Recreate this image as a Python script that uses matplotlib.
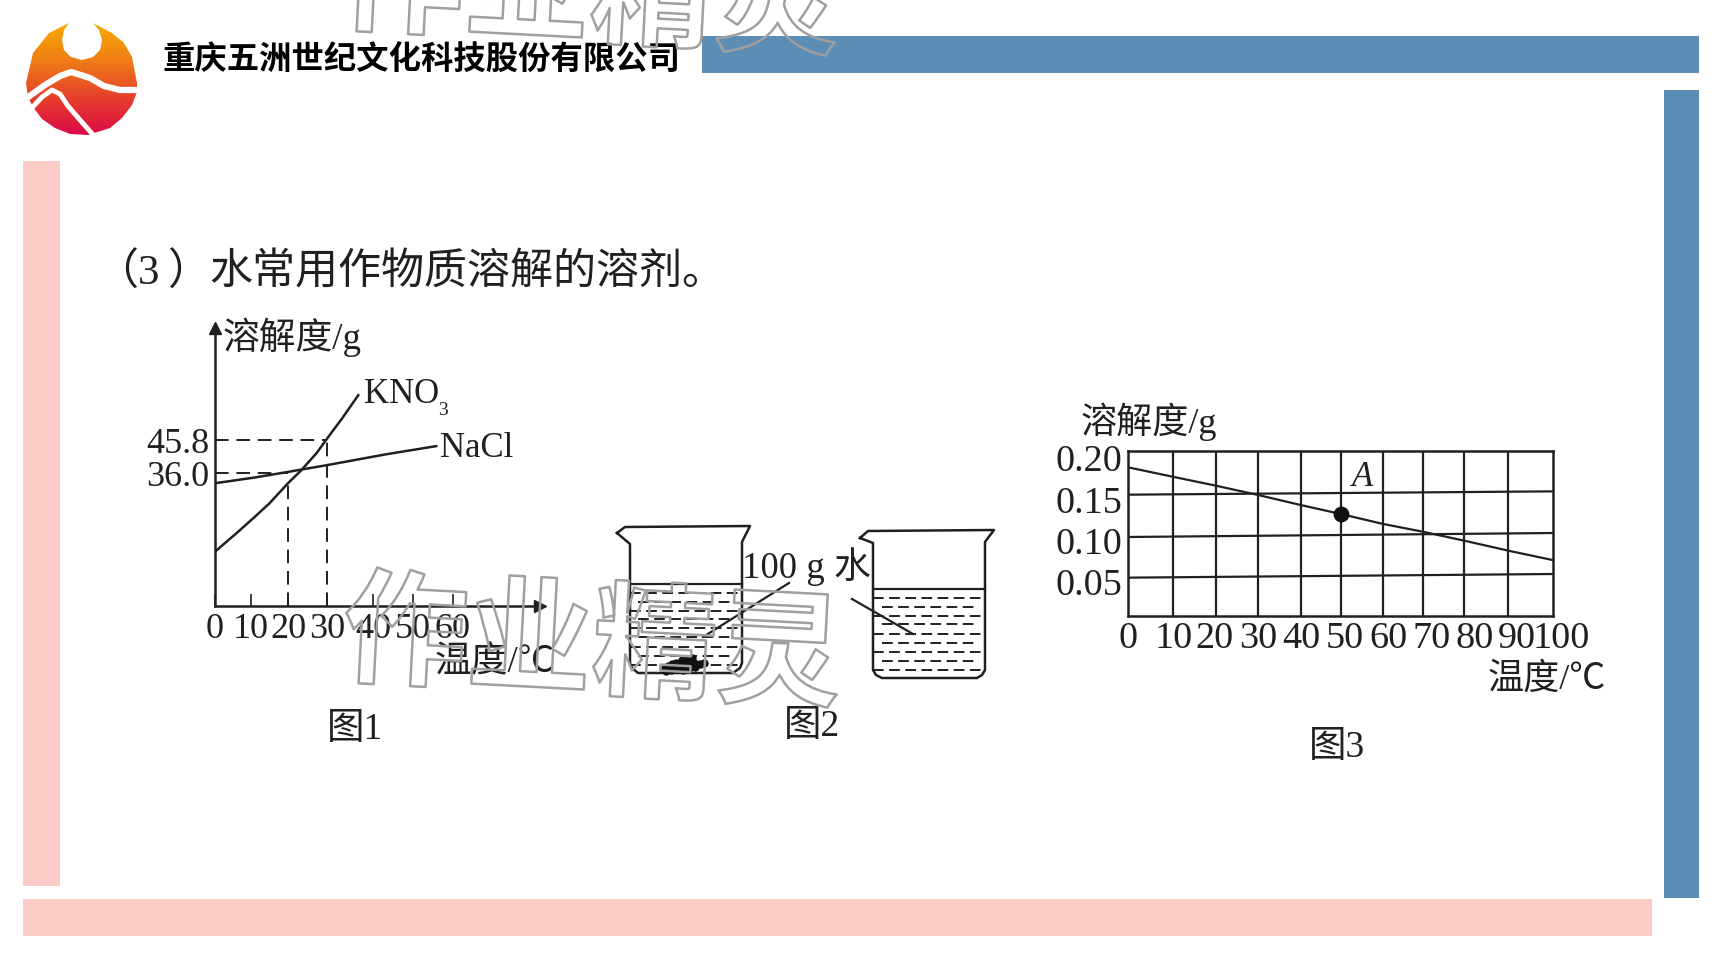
import numpy as np
import matplotlib
matplotlib.use("Agg")
import matplotlib.pyplot as plt
import matplotlib.patheffects as pe
from matplotlib.colors import LinearSegmentedColormap
from matplotlib.patches import Polygon, Rectangle

serif = ['Liberation Serif', 'Noto Sans CJK SC']
plt.rcParams['font.family'] = serif
ink = '#231f20'

# Figure 1 data
t1_ticks = [0, 10, 20, 30, 40, 50, 60]
t1_pixels = [215, 250.7, 288, 327, 373, 413, 453]
s1_ticks = [36.0, 45.8]
kno3_t = [0, 6, 10.7, 15, 20, 23.4, 27.3, 30, 33.3, 36.8]
kno3_s = [14.7, 19.7, 23.8, 27.8, 33.3, 36.9, 41.9, 46.2, 52.2, 59.0]
nacl_t = [0, 10.7, 20, 23.4, 30, 43.3, 55.8]
nacl_s = [33.3, 34.8, 36.4, 37.1, 38.4, 41.6, 44.0]

# Figure 3 data
grid_t = [0, 10.47, 20.6, 30.6, 40.6, 50.1, 60.1, 69.4, 79.2, 89.6, 100]
grid_left = [0.0464, 0.0956, 0.1468]
grid_right = [0.0508, 0.1004, 0.1508]
curve_t = [0, 10.47, 20.6, 30.6, 40.6, 50.1, 60.1, 69.4, 79.2, 89.6, 100]
curve_s = [0.1798, 0.1685, 0.1577, 0.1464, 0.1343, 0.1234, 0.1113, 0.1020, 0.0911, 0.0790, 0.0677]
point_t = 50.1
point_s = 0.1234
t3_label_pos = [0, 10.6, 20.4, 30.6, 40.8, 51, 61.2, 71.4, 81.6, 91.6]
t3_labels = ['0', '10', '20', '30', '40', '50', '60', '70', '80', '90']
s3_label_pos = [0.0415, 0.091, 0.141, 0.191]
s3_labels = ['0.05', '0.10', '0.15', '0.20']

# Figure 2 beakers, in pixels of the page
beaker1_x = [617, 625, 750, 742, 742, 740, 733, 638, 632, 630, 630, 617]
beaker1_y = [533, 527, 526, 542, 663, 668, 673, 673, 668, 663, 544, 533]
beaker2_x = [860, 868, 994, 985, 985, 982, 977, 882, 876, 873, 873, 860]
beaker2_y = [538, 531, 530, 542, 670, 675, 678, 678, 675, 670, 543, 538]
blob_x = [664, 668, 672, 676, 680, 684, 688, 692, 696, 700, 704, 666, 671, 677, 683, 689, 695, 670, 676, 682, 688, 692]
blob_y = [669, 666, 664, 663, 663, 662, 662, 661, 664, 664, 663, 671, 670, 669, 670, 668, 667, 667, 666, 660, 659, 658]

# logo outline, in pixels of the page
logo_x = [69, 49, 33, 26, 28, 33, 42, 55, 70, 88, 110, 122, 132, 137, 137, 132, 124, 112, 93,
          99, 102, 100, 93, 82, 71, 64, 62, 64]
logo_y = [23, 33, 53, 83, 97, 107, 119, 128, 134, 135, 128, 118, 105, 92, 83, 57, 43, 33, 23,
          30, 40, 50, 57, 60, 57, 50, 40, 30]

fig = plt.figure(figsize=(17.28, 9.72), dpi=100)
page = fig.add_axes([0, 0, 1, 1])
page.set_xlim(0, 1728)
page.set_ylim(972, 0)
page.axis('off')


def box(x0, y0, x1, y1):
    # pixels of the page to figure fractions
    return [x0 / 1728, 1 - y1 / 972, (x1 - x0) / 1728, (y1 - y0) / 972]


# bands
blue = '#5b8db5'
pink = '#fbcdc6'
page.add_patch(Rectangle((702, 36), 997, 37, color=blue, lw=0))
page.add_patch(Rectangle((1664, 90), 35, 808, color=blue, lw=0))
page.add_patch(Rectangle((23, 161), 37, 725, color=pink, lw=0))
page.add_patch(Rectangle((23, 899), 1629, 37, color=pink, lw=0))

# logo
cmap = LinearSegmentedColormap.from_list('logo', ['#f8ab00', '#ef7d17', '#e6402a', '#dc0a48'])
im = page.imshow(np.linspace(0, 1, 200).reshape(-1, 1), cmap=cmap, extent=(26, 137, 135, 23), aspect='auto', zorder=1)
shape = Polygon(np.column_stack([logo_x, logo_y]), transform=page.transData)
im.set_clip_path(shape)
page.set_xlim(0, 1728)
page.set_ylim(972, 0)
page.plot([24, 45, 60, 71, 90, 104, 120, 139], [100, 85, 76, 72, 78, 86, 90, 90], color='white', lw=4.5, zorder=2)
page.plot([30, 42, 52, 60, 68, 80, 95], [110, 97, 90, 94, 106, 120, 137], color='white', lw=3.5, zorder=2)

page.text(163, 60, '重庆五洲世纪文化科技股份有限公司', fontsize=23.3, fontweight='bold', family='Noto Sans CJK SC', va='center', color='black')
page.text(95, 273, '（3', fontsize=31, va='center', color=ink)
page.text(167, 273, '）', fontsize=31, va='center', color=ink)
page.text(209, 273, '水常用作物质溶解的溶剂。', fontsize=31, va='center', color=ink)

# Figure 1
ax1 = fig.add_axes(box(215, 328, 540, 605.7))
ax1.patch.set_visible(False)
t_ref = t1_ticks + [81.75]
x_ref = t1_pixels + [540]
s_ref = [0, 36.0, 45.8, 78.8]
y_ref = [0, 132.4, 165.7, 277.7]
ax1.set_xscale('function', functions=(lambda v: np.interp(v, t_ref, x_ref), lambda p: np.interp(p, x_ref, t_ref)))
ax1.set_yscale('function', functions=(lambda v: np.interp(v, s_ref, y_ref), lambda p: np.interp(p, y_ref, s_ref)))
ax1.set_xlim(0, 81.75)
ax1.set_ylim(0, 78.8)
ax1.plot(kno3_t, kno3_s, color=ink, lw=1.8)
ax1.plot(nacl_t, nacl_s, color=ink, lw=1.8)
dash1 = (0, (7, 4))
ax1.plot([0, 30], [45.8, 45.8], color=ink, lw=1.4, ls=dash1)
ax1.plot([0, 20], [36.0, 36.0], color=ink, lw=1.4, ls=dash1)
ax1.plot([20, 20], [0, 33.3], color=ink, lw=1.4, ls=dash1)
ax1.plot([30, 30], [0, 45.8], color=ink, lw=1.4, ls=dash1)
ax1.spines[['top', 'right']].set_visible(False)
ax1.spines[['left', 'bottom']].set_linewidth(1.8)
ax1.spines[['left', 'bottom']].set_color(ink)
ax1.plot(1, 0, '>', transform=ax1.transAxes, clip_on=False, color=ink, ms=9)
ax1.plot(0, 1, '^', transform=ax1.transAxes, clip_on=False, color=ink, ms=9)
ax1.set_xticks(t1_ticks, [str(t) for t in t1_ticks])
ax1.set_yticks(s1_ticks, ['36.0', '45.8'])
ax1.minorticks_off()
ax1.tick_params(axis='x', direction='in', length=8.5, width=1.2, color=ink, labelsize=26, pad=5.5, labelcolor=ink)
ax1.tick_params(axis='y', length=0, labelsize=26, pad=4, labelcolor=ink)
page.text(223, 337, '溶解度/g', fontsize=26.5, va='center', color=ink)
page.text(364, 403, 'KNO', fontsize=25, va='baseline', color=ink)
page.text(438, 415, '3', fontsize=14, va='baseline', color=ink)
page.text(440, 457, 'NaCl', fontsize=25, va='baseline', color=ink)
page.text(435, 663, '温度/℃', fontsize=26.5, va='center', color=ink)
page.text(355, 730, '图1', fontsize=27, va='center', ha='center', color=ink)

# Figure 2
page.plot(beaker1_x, beaker1_y, color=ink, lw=1.8)
page.plot(beaker2_x, beaker2_y, color=ink, lw=1.8)
page.plot([630, 742], [584, 584], color=ink, lw=1.6)
page.plot([873, 985], [589, 589], color=ink, lw=1.6)
dash2 = (0, (5.5, 2.8))
for i, y in enumerate([593, 602, 611, 619, 628, 637, 647, 656, 665]):
    x0, x1 = (630, 742) if i % 2 == 0 else (638, 732)
    page.plot([x0, x1], [y, y], color=ink, lw=1.4, ls=dash2)
for i, y in enumerate([598, 607, 616, 624, 634, 643, 652, 661, 670]):
    x0, x1 = (873, 985) if i % 2 == 0 else (882, 974)
    page.plot([x0, x1], [y, y], color=ink, lw=1.4, ls=dash2)
page.plot([703, 789], [637, 583], color=ink, lw=1.6)
page.plot([852, 913], [599, 634], color=ink, lw=1.6)
page.scatter(blob_x, blob_y, s=36, color='#111111', lw=0, zorder=4)
page.text(742, 567, '100 g 水', fontsize=26.5, va='center', color=ink)
page.text(812, 727, '图2', fontsize=27, va='center', ha='center', color=ink)

# Figure 3
ax3 = fig.add_axes(box(1128.4, 450.7, 1552.6, 616))
ax3.patch.set_visible(False)
for t in grid_t[1:-1]:
    ax3.plot([t, t], [0, 0.2], color=ink, lw=1.6)
for a, b in zip(grid_left, grid_right):
    ax3.plot([0, 100], [a, b], color=ink, lw=1.6)
ax3.plot(curve_t, curve_s, color=ink, lw=1.6)
ax3.scatter([point_t], [point_s], s=130, color='#111111', lw=0, zorder=3)
for s in ax3.spines.values():
    s.set_linewidth(1.8)
    s.set_color(ink)
ax3.set_xticks(t3_label_pos, t3_labels)
ax3.set_yticks(s3_label_pos, s3_labels)
ax3.set_xlim(0, 100)
ax3.set_ylim(0, 0.2)
ax3.tick_params(length=0, labelsize=27.5, labelcolor=ink)
ax3.tick_params(axis='x', pad=4)
ax3.tick_params(axis='y', pad=4)
ax3.annotate('100', xy=(102, 0), xytext=(0, -4), textcoords='offset points', annotation_clip=False,
             ha='center', va='top', fontsize=27.5, color=ink)
page.text(1363, 477, 'A', fontsize=25, style='italic', va='center', ha='center', color=ink)
page.text(1081, 422, '溶解度/g', fontsize=26, va='center', color=ink)
page.text(1488, 680, '温度/℃', fontsize=26, va='center', color=ink)
page.text(1337, 748, '图3', fontsize=27, va='center', ha='center', color=ink)

# watermarks, outline only
top = fig.add_axes([0, 0, 1, 1])
top.set_xlim(0, 1728)
top.set_ylim(972, 0)
top.axis('off')
for cx, cy in [(592, 648), (590, -4)]:
    t = top.text(cx, cy, '作业精灵', fontsize=90, family='Noto Sans CJK SC', fontweight='bold', rotation=-3,
                 ha='center', va='center', color='none', rotation_mode='anchor', clip_on=False)
    t.set_path_effects([pe.Stroke(linewidth=1.8, foreground='#a0a0a0')])

fig.savefig('out.png', dpi=100)
